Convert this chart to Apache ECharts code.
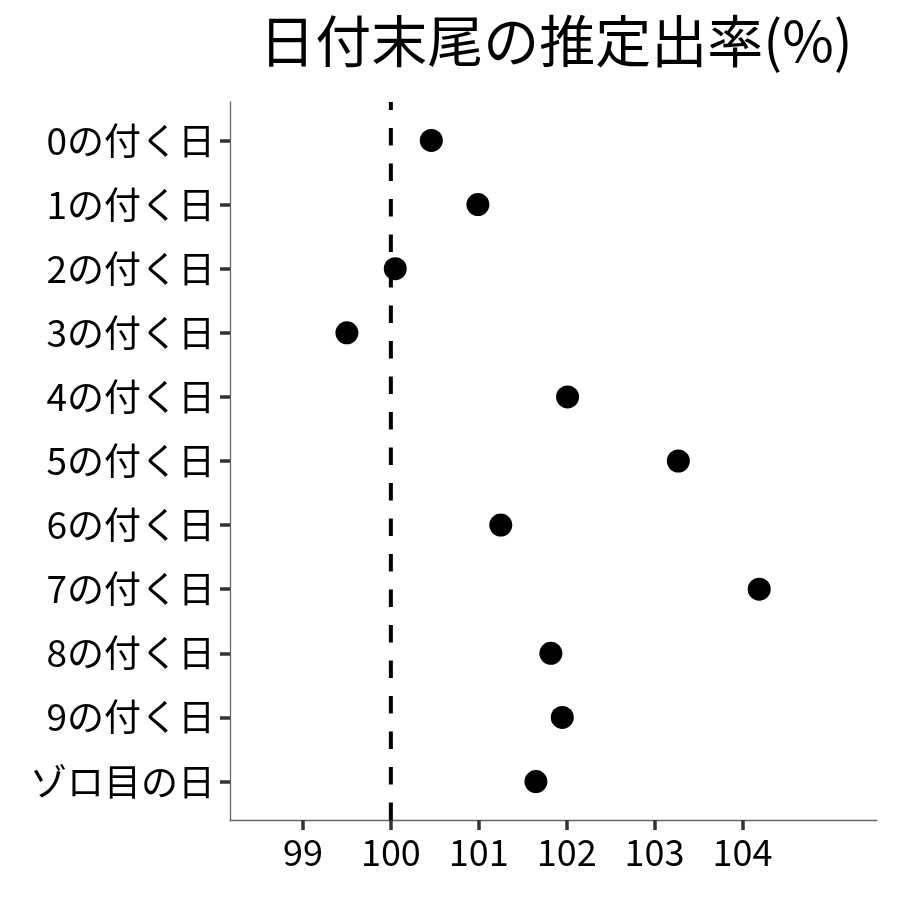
<!DOCTYPE html>
<html>
<head>
<meta charset="utf-8">
<script src="https://cdn.jsdelivr.net/npm/echarts@6/dist/echarts.min.js"></script>
<style>html,body{margin:0;padding:0;background:#fff}#c{width:900px;height:900px}</style>
</head>
<body>
<div id="c"></div>
<script>
const categories = ["0の付く日","1の付く日","2の付く日","3の付く日","4の付く日","5の付く日","6の付く日","7の付く日","8の付く日","9の付く日","ゾロ目の日"];
const rates = [100.46, 100.99, 100.05, 99.5, 102.01, 103.27, 101.25, 104.19, 101.82, 101.95, 101.65];
const xTicks = [99, 100, 101, 102, 103, 104];
const refValue = 100;
const title = "日付末尾の推定出率(%)";

const font = '"Noto Sans CJK JP", "Noto Sans", sans-serif';
const chart = echarts.init(document.getElementById('c'), null, {renderer: 'canvas'});
const yIdx = categories.map((_, i) => i);
chart.setOption({
  animation: false,
  backgroundColor: '#fff',
  title: {
    text: title, left: 551, textAlign: 'center', top: 8,
    textStyle: {fontFamily: font, fontSize: 56, fontWeight: 'normal', color: '#000'}
  },
  grid: {left: 230, right: 23, top: 102, bottom: 80, containLabel: false},
  xAxis: {
    type: 'value', min: 98.17, max: 105.53,
    axisLine: {show: true, onZero: false, lineStyle: {color: '#666', width: 1.3}},
    axisTick: {show: true, customValues: xTicks, length: 10, lineStyle: {color: '#333', width: 3.5}},
    axisLabel: {customValues: xTicks, margin: 14, fontFamily: font, fontSize: 36, color: '#000'},
    splitLine: {show: false}
  },
  yAxis: {
    type: 'value', inverse: true, min: -0.6, max: 10.6,
    axisLine: {show: true, onZero: false, lineStyle: {color: '#666', width: 1.3}},
    axisTick: {show: true, customValues: yIdx, length: 10, lineStyle: {color: '#333', width: 3.5}},
    axisLabel: {customValues: yIdx, margin: 15, fontFamily: font, fontSize: 37, color: '#000',
      formatter: v => categories[Math.round(v)] || ''},
    splitLine: {show: false}
  },
  series: [
    {
      type: 'line', data: [[refValue, 10.6], [refValue, -0.6]], symbol: 'none',
      lineStyle: {color: '#000', width: 4, type: [17.5, 18]}, z: 1
    },
    {
      type: 'scatter', data: rates.map((v, i) => [v, i]), symbol: 'circle', symbolSize: 23,
      itemStyle: {color: '#000', opacity: 1}, z: 3
    }
  ]
});
</script>
</body>
</html>
